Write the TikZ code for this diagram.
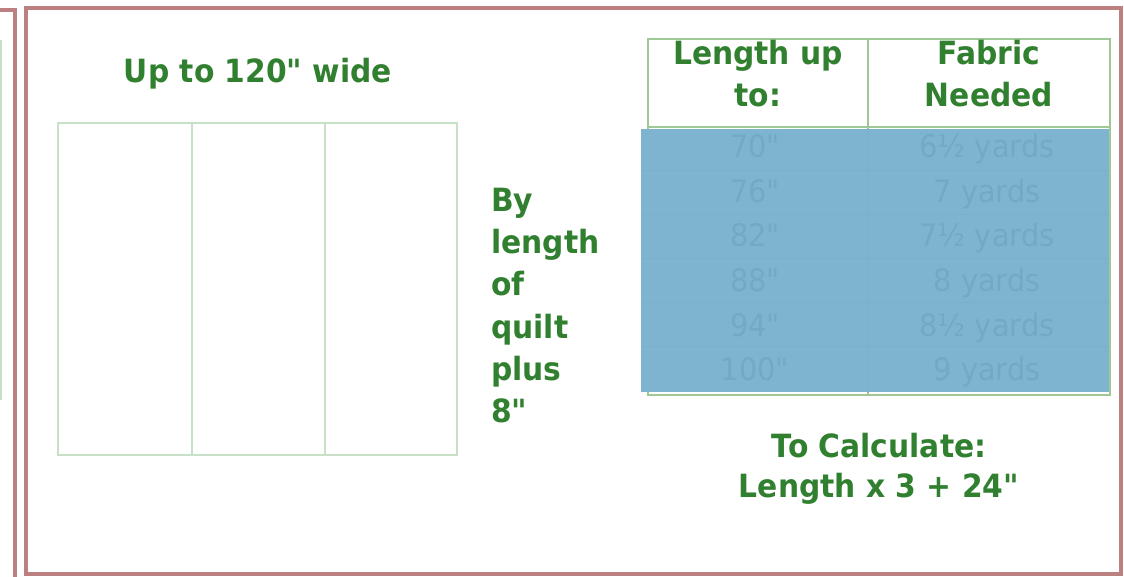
\documentclass[tikz,border=0pt]{standalone}
\usepackage{fontspec}
\setmainfont{DejaVu Sans}[Ligatures=TeXOff,FakeStretch=0.93]
\definecolor{txtgreen}{RGB}{48,128,48}
\definecolor{panelgreen}{RGB}{200,224,198}
\definecolor{tablegreen}{RGB}{160,200,150}
\definecolor{framered}{RGB}{188,128,128}
\definecolor{sheetblue}{RGB}{126,180,207}
\definecolor{fainttxt}{RGB}{114,170,198}
\begin{document}
\begin{tikzpicture}[x=1bp,y=-1bp,
  lbl/.style={text=txtgreen,font=\bfseries\fontsize{32bp}{42bp}\selectfont,inner sep=0pt,anchor=base},
  lblw/.style={lbl,anchor=base west},
  faint/.style={text=fainttxt,font=\fontsize{31bp}{42bp}\selectfont,inner sep=0pt,anchor=base},
  panel/.style={draw=panelgreen,line width=2bp},
  grid/.style={draw=tablegreen,line width=2bp},
  frame/.style={draw=framered,line width=4.5bp},
  faintline/.style={draw=fainttxt,line width=0.8bp,opacity=0.4}]
\useasboundingbox (0,0) rectangle (1124,577);
\fill[white] (0,0) rectangle (1124,577);
% neighbouring panel edge
\draw[frame,line width=4bp] (0,10) -- (15,10) -- (15,577);
\draw[panelgreen,line width=1.5bp] (1,40) -- (1,400);
% main frame
\draw[frame] (26,8) rectangle (1121,574);
% three-panel backing
\draw[panel] (58,123) rectangle (457,455);
\draw[panel] (192,123) -- (192,455);
\draw[panel] (325,123) -- (325,455);
\node[lbl] (wide) at (258,83) {Up to 120" wide};
% side text
\node[lblw] (s1) at (491,212) {By};
\node[lblw] (s2) at (491,254) {length};
\node[lblw] (s3) at (491,296) {of};
\node[lblw] (s4) at (491,338) {quilt};
\node[lblw] (s5) at (491,380) {plus};
\node[lblw] (s6) at (491,422) {8"};
% table
\draw[grid] (648,39) rectangle (1110,395);
\draw[grid] (868,39) -- (868,395);
\draw[grid] (648,127) -- (1110,127);
\node[lbl] (h1a) at (758,65) {Length up};
\node[lbl] (h1b) at (758,107) {to:};
\node[lbl] (h2a) at (989,65) {Fabric};
\node[lbl] (h2b) at (989,107) {Needed};
% blue cover
\fill[sheetblue] (641,129) rectangle (1109,392);
\foreach \yy in {170,214,258,302,346}{\draw[faintline] (641,\yy) -- (1109,\yy);}
\draw[faintline] (868,129) -- (868,392);
\node[faint] (r1a) at (755,158) {70"};
\node[faint] (r1b) at (987,158) {6½ yards};
\node[faint] (r2a) at (755,203) {76"};
\node[faint] (r2b) at (987,203) {7 yards};
\node[faint] (r3a) at (755,247) {82"};
\node[faint] (r3b) at (987,247) {7½ yards};
\node[faint] (r4a) at (755,292) {88"};
\node[faint] (r4b) at (987,292) {8 yards};
\node[faint] (r5a) at (755,337) {94"};
\node[faint] (r5b) at (987,337) {8½ yards};
\node[faint] (r6a) at (755,380) {100"};
\node[faint] (r6b) at (987,380) {9 yards};
% formula
\node[lbl] (c1) at (879,457) {To Calculate:};
\node[lbl] (c2) at (879,497) {Length x 3 + 24"};
\end{tikzpicture}
\end{document}
